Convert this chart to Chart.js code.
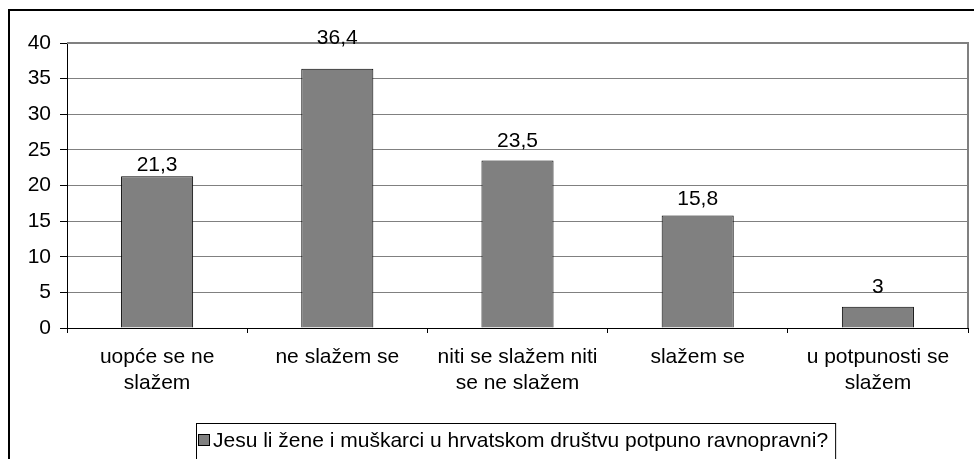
<!DOCTYPE html>
<html>
<head>
<meta charset="utf-8">
<script src="https://cdn.jsdelivr.net/npm/chart.js@4/dist/chart.umd.min.js"></script>
<style>
  body { margin: 0; background: #fff; }
  #c { display: block; }
</style>
</head>
<body>
<canvas id="c" width="974" height="459"></canvas>
<script>
const categories = [['uopće se ne', 'slažem'], 'ne slažem se', ['niti se slažem niti', 'se ne slažem'], 'slažem se', ['u potpunosti se', 'slažem']];
const values = [21.3, 36.4, 23.5, 15.8, 3];
const seriesLabel = 'Jesu li žene i muškarci u hrvatskom društvu potpuno ravnopravni?';
const yMax = 40;
const yStep = 5;

const FONT = 'Liberation Sans, Arial, sans-serif';
const FS = 21;
// gap between bar top and label baseline, as placed in the original
const labelGap = [5, 25, 14, 10, 14];

// outer frame, plot border, value labels and the boxed legend
const extras = {
  id: 'extras',
  beforeDraw(chart) {
    const c = chart.ctx;
    c.save();
    c.fillStyle = '#fff';
    c.fillRect(0, 0, chart.width, chart.height);
    c.strokeStyle = '#000';
    c.lineWidth = 2;
    c.strokeRect(9, 10, 1000, 600);
    c.restore();
  },
  afterDraw(chart) {
    const c = chart.ctx;
    const a = chart.chartArea;
    c.save();
    c.strokeStyle = '#808080';
    c.lineWidth = 2;
    c.beginPath();
    c.moveTo(a.left, a.top);
    c.lineTo(a.right, a.top);
    c.lineTo(a.right, a.bottom);
    c.stroke();

    // value labels
    c.fillStyle = '#000';
    c.font = FS + 'px ' + FONT;
    c.textAlign = 'center';
    c.textBaseline = 'alphabetic';
    chart.getDatasetMeta(0).data.forEach((bar, i) => {
      c.fillText(String(values[i]).replace('.', ','), bar.x, bar.y - labelGap[i]);
    });

    // legend
    c.textAlign = 'left';
    const tw = c.measureText(seriesLabel).width;
    const bx = 196, by = 423;
    const bw = tw + 24;
    c.strokeStyle = '#000';
    c.lineWidth = 1;
    c.strokeRect(bx + 0.5, by + 0.5, bw, 60);
    c.fillStyle = '#808080';
    c.fillRect(199, 435, 10, 10);
    c.strokeRect(198.5, 434.5, 11, 11);
    c.fillStyle = '#000';
    c.textBaseline = 'middle';
    c.fillText(seriesLabel, 213, 441);
    c.restore();
  }
};

new Chart(document.getElementById('c'), {
  type: 'bar',
  data: {
    labels: categories,
    datasets: [{
      label: seriesLabel,
      data: values,
      backgroundColor: '#808080',
      borderColor: '#000',
      borderWidth: 1,
      barPercentage: 0.4,
      categoryPercentage: 1
    }]
  },
  options: {
    responsive: false,
    animation: false,
    layout: { padding: { left: 9, right: 6, top: 43, bottom: 0 } },
    plugins: { legend: { display: false }, tooltip: { enabled: false } },
    scales: {
      x: {
        afterFit(s) { s.height = 131; },
        grid: { drawOnChartArea: false, color: '#000', tickLength: 5 },
        border: { color: '#000' },
        ticks: { color: '#000', font: { family: FONT, size: FS, lineHeight: 1.25 }, maxRotation: 0, autoSkip: false, padding: 11 }
      },
      y: {
        min: 0,
        max: yMax,
        afterFit(s) { s.width = 58; },
        grid: { color: '#808080', tickLength: 7, tickColor: '#000' },
        border: { color: '#000' },
        ticks: { stepSize: yStep, color: '#000', font: { family: FONT, size: FS }, padding: 9 }
      }
    }
  },
  plugins: [extras]
});
</script>
</body>
</html>
